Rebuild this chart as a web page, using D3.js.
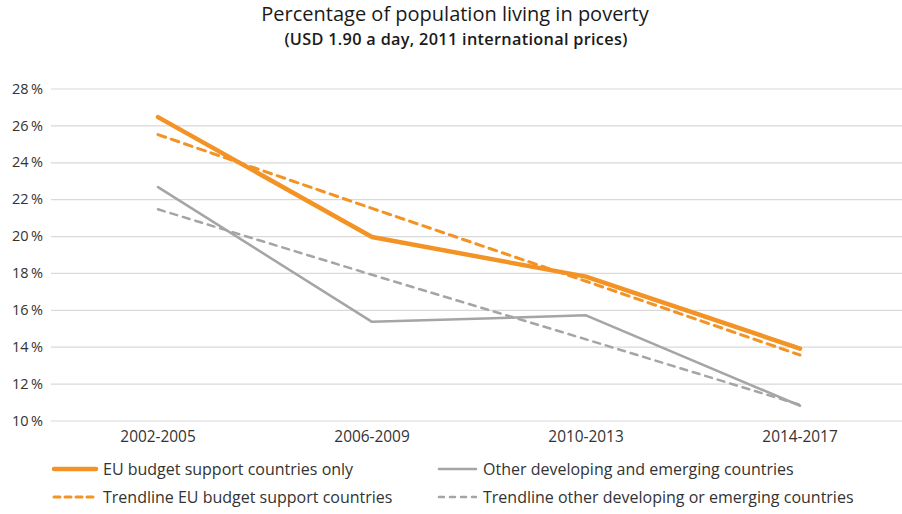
<!DOCTYPE html>
<html>
<head>
<meta charset="utf-8">
<script src="https://cdn.jsdelivr.net/npm/d3@7"></script>
<style>
  html, body { margin: 0; padding: 0; background: #fff; }
  svg { display: block; font-family: "Open Sans", "Noto Sans", sans-serif; }
</style>
</head>
<body>
<svg id="chart" width="902" height="514"></svg>
<script>
// Poverty headcount by period (% of population, USD 1.90/day)
const periods = ["2002-2005", "2006-2009", "2010-2013", "2014-2017"];
const euSupport = [26.45, 19.95, 17.8, 13.9];
const otherCountries = [22.65, 15.35, 15.7, 10.8];
const euTrend = [25.5, 21.5, 17.55, 13.55];
const otherTrend = [21.45, 17.9, 14.4, 10.85];
const yTicks = [10, 12, 14, 16, 18, 20, 22, 24, 26, 28];

const orange = "#F39325";
const grey = "#A5A5A5";
const FONT = "\"Open Sans\", \"Noto Sans\", sans-serif";

const svg = d3.select("#chart");

const x = d3.scaleBand().domain(periods).range([51, 907]);
const y = d3.scaleLinear().domain([10, 28]).range([420.5, 88.5]);

// Title
svg.append("text")
  .attr("x", 455).attr("y", 21)
  .attr("text-anchor", "middle")
  .attr("font-size", 20).attr("fill", "#1a1a1a")
  .text("Percentage of population living in poverty");
svg.append("text")
  .attr("x", 456).attr("y", 44.5)
  .attr("text-anchor", "middle")
  .attr("font-size", 16.3).attr("font-weight", 600)
  .attr("letter-spacing", 0.3).attr("fill", "#1a1a1a")
  .text("(USD 1.90 a day, 2011 international prices)");

// Gridlines + y labels
const yAxis = d3.axisLeft(y)
  .tickValues(yTicks)
  .tickSize(-(907 - 51))
  .tickPadding(8)
  .tickFormat(d => d + "\u2009%");
const gy = svg.append("g").attr("transform", "translate(51,0)").call(yAxis);
gy.select(".domain").remove();
gy.selectAll(".tick line").attr("stroke", "#d9d9d9").attr("stroke-width", 1.2);
gy.selectAll(".tick text")
  .attr("font-size", 14.5).attr("fill", "#333")
  .attr("font-family", FONT);

// x labels
const xAxis = d3.axisBottom(x).tickSize(0).tickPadding(11);
const gx = svg.append("g").attr("transform", "translate(0,420.5)").call(xAxis);
gx.select(".domain").remove();
gx.selectAll(".tick text")
  .attr("font-size", 15.4).attr("fill", "#333")
  .attr("font-family", FONT);

const cx = d => x(d) + x.bandwidth() / 2;
const line = d3.line().x(d => cx(d.p)).y(d => y(d.v));
const toPts = arr => periods.map((p, i) => ({ p, v: arr[i] }));

const series = [
  { data: otherTrend, color: grey, width: 2.5, dash: "7,6" },
  { data: otherCountries, color: grey, width: 2.5, dash: null },
  { data: euTrend, color: orange, width: 3, dash: "8,6" },
  { data: euSupport, color: orange, width: 4.5, dash: null }
];

series.forEach(s => {
  svg.append("path")
    .attr("d", line(toPts(s.data)))
    .attr("fill", "none")
    .attr("stroke", s.color)
    .attr("stroke-width", s.width)
    .attr("stroke-linecap", "round")
    .attr("stroke-linejoin", "round")
    .attr("stroke-dasharray", s.dash);
});

// Legend
const legend = [
  { label: "EU budget support countries only", color: orange, width: 4.5, dash: null, x: 54, len: 42, y: 469 },
  { label: "Other developing and emerging countries", color: grey, width: 2.5, dash: null, x: 439, len: 37, y: 469 },
  { label: "Trendline EU budget support countries", color: orange, width: 3, dash: "6,5", x: 54, len: 42, y: 497 },
  { label: "Trendline other developing or emerging countries", color: grey, width: 2.5, dash: "5,6", x: 439, len: 37, y: 497 }
];
const lg = svg.append("g");
legend.forEach(l => {
  lg.append("line")
    .attr("x1", l.x).attr("x2", l.x + l.len)
    .attr("y1", l.y).attr("y2", l.y)
    .attr("stroke", l.color).attr("stroke-width", l.width)
    .attr("stroke-linecap", "round")
    .attr("stroke-dasharray", l.dash);
  lg.append("text")
    .attr("x", l.x + l.len + 7).attr("y", l.y + 6)
    .attr("font-size", 16).attr("fill", "#333")
    .text(l.label);
});
</script>
</body>
</html>
